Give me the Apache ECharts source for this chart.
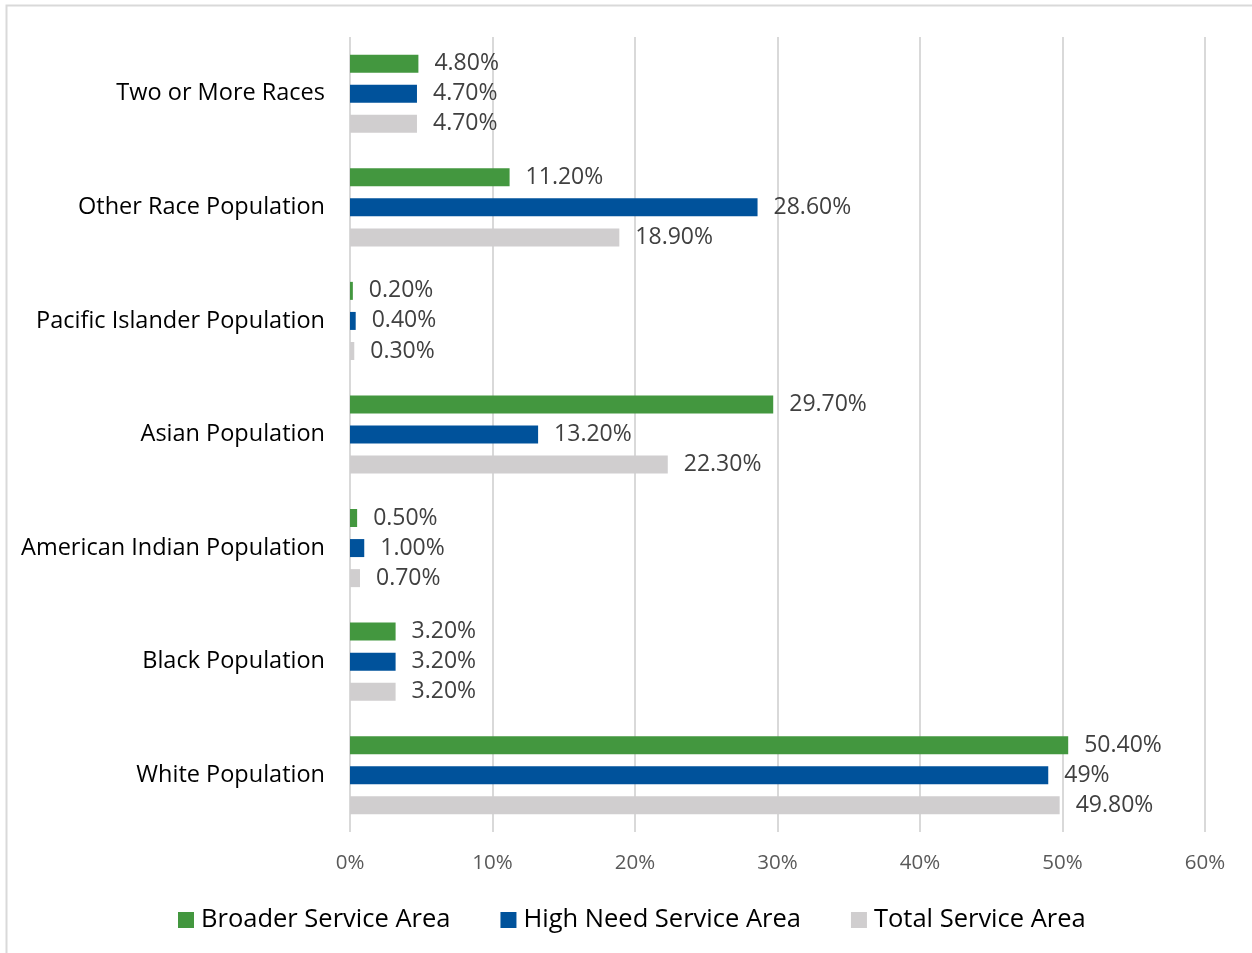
<!DOCTYPE html>
<html>
<head>
<meta charset="utf-8">
<script src="https://cdn.jsdelivr.net/npm/echarts@6/dist/echarts.min.js"></script>
<style>
html,body{margin:0;padding:0;background:#fff;}
#chart{width:1252px;height:953px;}
</style>
</head>
<body>
<div id="chart"></div>
<script>
// Categories listed bottom-to-top (ECharts category y axis starts at the bottom)
const categories = ['White Population','Black Population','American Indian Population','Asian Population','Pacific Islander Population','Other Race Population','Two or More Races'];
const broader = [50.4, 3.2, 0.5, 29.7, 0.2, 11.2, 4.8];
const highNeed = [49, 3.2, 1.0, 13.2, 0.4, 28.6, 4.7];
const total = [49.8, 3.2, 0.7, 22.3, 0.3, 18.9, 4.7];
const broaderLabels = ['50.40%','3.20%','0.50%','29.70%','0.20%','11.20%','4.80%'];
const highNeedLabels = ['49%','3.20%','1.00%','13.20%','0.40%','28.60%','4.70%'];
const totalLabels = ['49.80%','3.20%','0.70%','22.30%','0.30%','18.90%','4.70%'];
const xTicks = [0,10,20,30,40,50,60];

const FONT = '"Open Sans", sans-serif';
const chart = echarts.init(document.getElementById('chart'));

function mkSeries(name, data, labels, color){
  return {
    name: name, type: 'bar', data: data, barWidth: 18, barGap: '67%',
    itemStyle: {color: color},
    label: {show: true, position: 'right', distance: 16, fontFamily: FONT, fontSize: 23, color: '#404040',
      formatter: p => labels[p.dataIndex]},
    emphasis: {disabled: true}
  };
}

chart.setOption({
  animation: false,
  backgroundColor: '#fff',
  graphic: [{type:'rect', shape:{x:6.5,y:5.5,width:1400,height:1100}, style:{fill:null, stroke:'#d9d9d9', lineWidth:2}, silent:true, z:-1}],
  grid: {left: 350, right: 47, top: 37, bottom: 121},
  legend: {
    data: ['Broader Service Area','High Need Service Area','Total Service Area'],
    left: 173, top: 902, itemWidth: 16, itemHeight: 16, itemGap: 50,
    icon: 'rect',
    textStyle: {fontFamily: FONT, fontSize: 25.5, color: '#000', padding: [0,0,0,2]}
  },
  xAxis: {
    type: 'value', min: 0, max: 60, interval: 10,
    axisLabel: {formatter: v => v + '%', fontFamily: FONT, fontSize: 20.5, color: '#595959', margin: 21},
    splitLine: {show: true, lineStyle: {color: '#d9d9d9', width: 2}},
    axisLine: {show: false}, axisTick: {show: false}
  },
  yAxis: {
    type: 'category', data: categories,
    axisLabel: {fontFamily: FONT, fontSize: 23.5, color: '#000', margin: 25},
    axisLine: {show: false}, axisTick: {show: false}
  },
  series: [
    mkSeries('Broader Service Area', broader, broaderLabels, '#43973f'),
    mkSeries('High Need Service Area', highNeed, highNeedLabels, '#00529b'),
    mkSeries('Total Service Area', total, totalLabels, '#d0cecf')
  ]
});
</script>
</body>
</html>
